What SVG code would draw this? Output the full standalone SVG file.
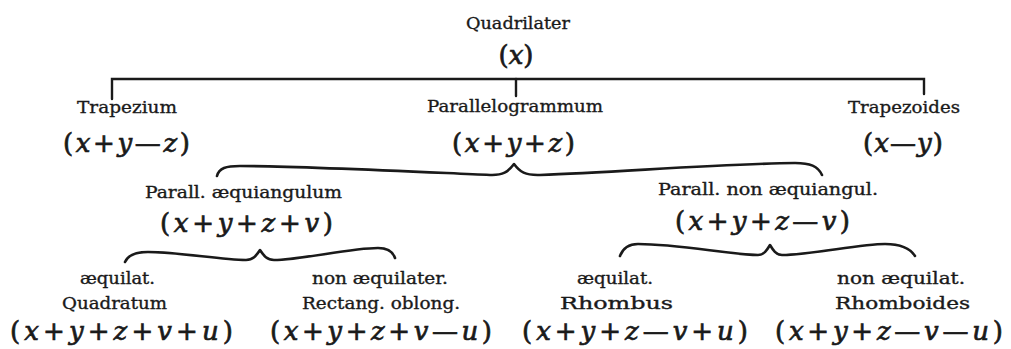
<svg xmlns="http://www.w3.org/2000/svg" width="1011" height="349" viewBox="0 0 1011 349">
<style>
.l{font-family:"DejaVu Serif","Liberation Serif",serif;font-size:16px;fill:#1a1a1a;stroke:#1a1a1a;stroke-width:0.35}
.lt{font-family:"DejaVu Serif","Liberation Serif",serif;font-size:17px;fill:#1a1a1a;stroke:#1a1a1a;stroke-width:0.35}
.f{font-family:"DejaVu Serif","Liberation Serif",serif;font-size:26px;fill:#1a1a1a;stroke:#1a1a1a;stroke-width:0.7}
.i{font-style:italic}
.c{fill:none;stroke:#1a1a1a;stroke-width:2.4;stroke-linecap:round;stroke-linejoin:miter}
.b{fill:none;stroke:#1a1a1a;stroke-width:2.6;stroke-linecap:round;stroke-linejoin:round}
</style>
<rect width="1011" height="349" fill="#ffffff"/>
<g id="connectors">
<path class="c" d="M112,99 L112,79 L924,79 L924,94"/>
<path class="c" d="M516,79 L516,96"/>
<path class="b" d="M217,176 C219,168 226,166 240,166 C300,166 420,172 490,175 C503,175.5 508,172 514,164 C520,172 525,175.5 540,175 C620,172 720,164 795,163 C810,163 818,166 822,175"/>
<path class="b" d="M125,262 C128,255 135,252 148,252 C180,252 220,260 246,260 C253,260 256,256 260,250 C264,256 267,260 274,260 C300,260 350,248 378,248 C388,248 393,252 395,258"/>
<path class="b" d="M620,256 C623,248 628,244 638,244 C680,244 730,255 758,255 C764,255 767,250 770,245 C773,250 776,255 782,255 C810,255 860,244 885,244 C900,244 910,248 915,256"/>
</g>
<g id="quadrilater">
<text class="lt" x="466" y="29" textLength="104" lengthAdjust="spacingAndGlyphs">Quadrilater</text>
<text class="f" x="516" y="64" text-anchor="middle">(<tspan class="i">x</tspan>)</text>
</g>
<g id="trapezium">
<text class="lt" x="77" y="113" textLength="100" lengthAdjust="spacingAndGlyphs">Trapezium</text>
<text class="f" x="63" y="152" textLength="127" lengthAdjust="spacing">(<tspan class="i">x</tspan>+<tspan class="i">y</tspan>—<tspan class="i">z</tspan>)</text>
</g>
<g id="parallelogrammum">
<text class="lt" x="427" y="112" textLength="176" lengthAdjust="spacingAndGlyphs">Parallelogrammum</text>
<text class="f" x="452" y="152" textLength="123" lengthAdjust="spacing">(<tspan class="i">x</tspan>+<tspan class="i">y</tspan>+<tspan class="i">z</tspan>)</text>
</g>
<g id="trapezoides">
<text class="lt" x="848" y="113" textLength="112" lengthAdjust="spacingAndGlyphs">Trapezoides</text>
<text class="f" x="863" y="152" textLength="80" lengthAdjust="spacing">(<tspan class="i">x</tspan>—<tspan class="i">y</tspan>)</text>
</g>
<g id="parall-aequiangulum">
<text class="l" x="145" y="198" textLength="197" lengthAdjust="spacingAndGlyphs">Parall. æquiangulum</text>
<text class="f" x="160" y="232" textLength="173" lengthAdjust="spacing">(<tspan class="i">x</tspan>+<tspan class="i">y</tspan>+<tspan class="i">z</tspan>+<tspan class="i">v</tspan>)</text>
</g>
<g id="parall-non-aequiangul">
<text class="l" x="658" y="195" textLength="220" lengthAdjust="spacingAndGlyphs">Parall. non æquiangul.</text>
<text class="f" x="675" y="230" textLength="175" lengthAdjust="spacing">(<tspan class="i">x</tspan>+<tspan class="i">y</tspan>+<tspan class="i">z</tspan>—<tspan class="i">v</tspan>)</text>
</g>
<g id="quadratum">
<text class="l" x="80" y="284" textLength="75" lengthAdjust="spacingAndGlyphs">æquilat.</text>
<text class="l" x="62" y="309" textLength="105" lengthAdjust="spacingAndGlyphs">Quadratum</text>
<text class="f" x="10" y="340" textLength="223" lengthAdjust="spacing">(<tspan class="i">x</tspan>+<tspan class="i">y</tspan>+<tspan class="i">z</tspan>+<tspan class="i">v</tspan>+<tspan class="i">u</tspan>)</text>
</g>
<g id="rectang-oblong">
<text class="l" x="312" y="284" textLength="136" lengthAdjust="spacingAndGlyphs">non æquilater.</text>
<text class="l" x="302" y="309" textLength="158" lengthAdjust="spacingAndGlyphs">Rectang. oblong.</text>
<text class="f" x="270" y="340" textLength="222" lengthAdjust="spacing">(<tspan class="i">x</tspan>+<tspan class="i">y</tspan>+<tspan class="i">z</tspan>+<tspan class="i">v</tspan>—<tspan class="i">u</tspan>)</text>
</g>
<g id="rhombus">
<text class="l" x="577" y="284" textLength="76" lengthAdjust="spacingAndGlyphs">æquilat.</text>
<text class="l" x="560" y="309" textLength="113" lengthAdjust="spacingAndGlyphs">Rhombus</text>
<text class="f" x="522" y="340" textLength="226" lengthAdjust="spacing">(<tspan class="i">x</tspan>+<tspan class="i">y</tspan>+<tspan class="i">z</tspan>—<tspan class="i">v</tspan>+<tspan class="i">u</tspan>)</text>
</g>
<g id="rhomboides">
<text class="l" x="837" y="284" textLength="128" lengthAdjust="spacingAndGlyphs">non æquilat.</text>
<text class="l" x="835" y="309" textLength="135" lengthAdjust="spacingAndGlyphs">Rhomboides</text>
<text class="f" x="775" y="340" textLength="228" lengthAdjust="spacing">(<tspan class="i">x</tspan>+<tspan class="i">y</tspan>+<tspan class="i">z</tspan>—<tspan class="i">v</tspan>—<tspan class="i">u</tspan>)</text>
</g>
</svg>
